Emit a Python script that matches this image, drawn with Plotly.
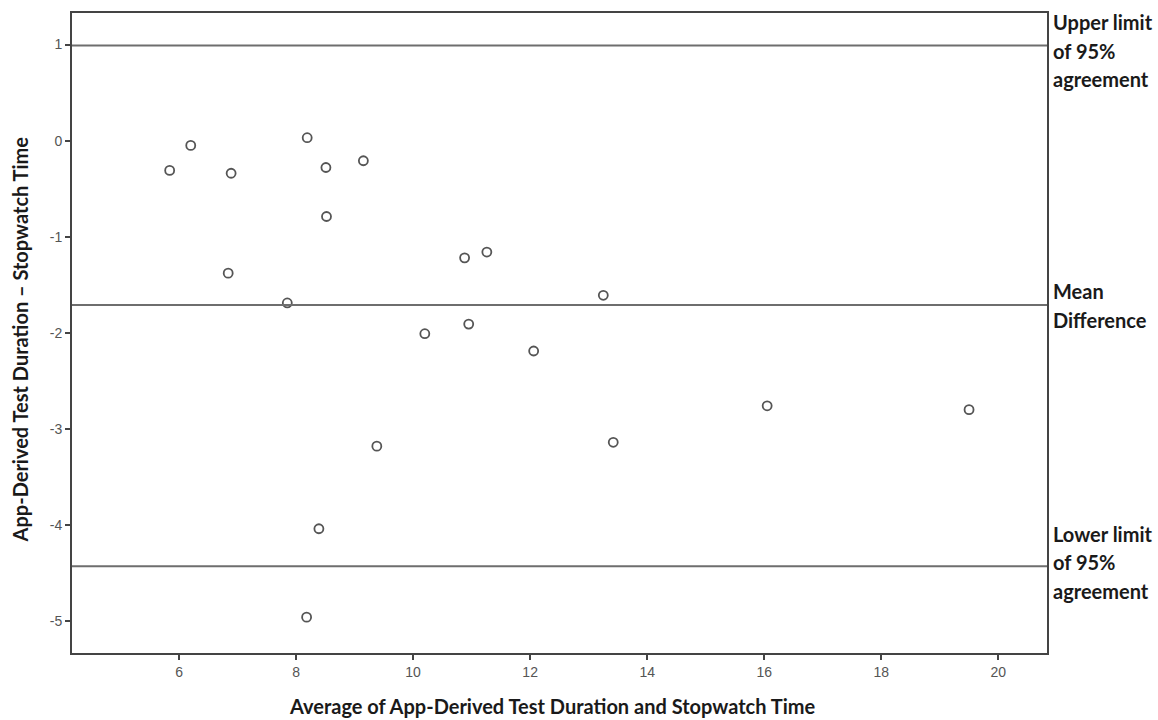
import plotly.graph_objects as go

avg = [5.84, 6.20, 6.89, 6.84, 7.85, 8.19, 8.51, 8.52, 9.15, 9.38, 8.39, 8.18,
       10.88, 11.26, 13.25, 10.20, 10.95, 12.06, 13.42, 16.05, 19.50]
diff = [-0.31, -0.05, -0.34, -1.38, -1.69, 0.03, -0.28, -0.79, -0.21, -3.18, -4.04, -4.96,
        -1.22, -1.16, -1.61, -2.01, -1.91, -2.19, -3.14, -2.76, -2.80]

upper_loa = 0.99
mean_diff = -1.71
lower_loa = -4.43

x_ticks = [6, 8, 10, 12, 14, 16, 18, 20]
y_ticks = [1, 0, -1, -2, -3, -4, -5]

line_labels = [
    (upper_loa, ["Upper limit", "of 95%", "agreement"], [23, -6, -34]),
    (mean_diff, ["Mean", "Difference"], [14, -15]),
    (lower_loa, ["Lower limit", "of 95%", "agreement"], [32, 4, -25]),
]

XR = [4.171, 20.832]
YR = [-5.333, 1.328]

fig = go.Figure()
fig.add_trace(go.Scatter(
    x=avg, y=diff, mode="markers",
    marker=dict(symbol="circle-open", size=9, color="#555555", line=dict(width=1.8, color="#555555")),
    showlegend=False, hoverinfo="x+y"))

for yv, _, _ in line_labels:
    fig.add_shape(type="line", xref="paper", x0=0, x1=1, yref="y", y0=yv, y1=yv,
                  line=dict(color="#6e6e6e", width=2))

bold_font = dict(family="Lato", size=20, color="#1a1a1a")

for yv, lines, shifts in line_labels:
    for t, s in zip(lines, shifts):
        fig.add_annotation(text="<b>%s</b>" % t, xref="paper", x=1.0, xanchor="left", xshift=4,
                           yref="y", y=yv, yanchor="middle", yshift=s,
                           showarrow=False, font=bold_font, align="left")

fig.add_annotation(text="<b>Average of App-Derived Test Duration and Stopwatch Time</b>",
                   xref="paper", x=0.492, xanchor="center", yref="paper", y=0, yanchor="middle",
                   yshift=-53, showarrow=False, font=bold_font)
fig.add_annotation(text="<b>App-Derived Test Duration \u2013 Stopwatch Time</b>",
                   xref="paper", x=0, xanchor="center", xshift=-52, yref="paper", y=0.49,
                   yanchor="middle", textangle=-90, showarrow=False, font=bold_font)

axis_common = dict(showline=True, linecolor="#444444", linewidth=2, mirror=True,
                   showgrid=False, zeroline=False, ticks="outside", ticklen=5,
                   tickwidth=2, tickcolor="#444444",
                   tickfont=dict(family="Liberation Sans", size=14, color="#555555"))

fig.update_xaxes(range=XR, tickvals=x_ticks, ticktext=[str(v) for v in x_ticks], **axis_common)
fig.update_yaxes(range=YR, tickvals=y_ticks, ticktext=[str(v) for v in y_ticks], **axis_common)

fig.update_layout(width=1158, height=720, margin=dict(l=72, r=111, t=13, b=67),
                  plot_bgcolor="white", paper_bgcolor="white")

fig.write_html("out.html", config={"displayModeBar": False},
               post_script="document.body.style.margin='0';document.body.style.overflow='hidden';")
